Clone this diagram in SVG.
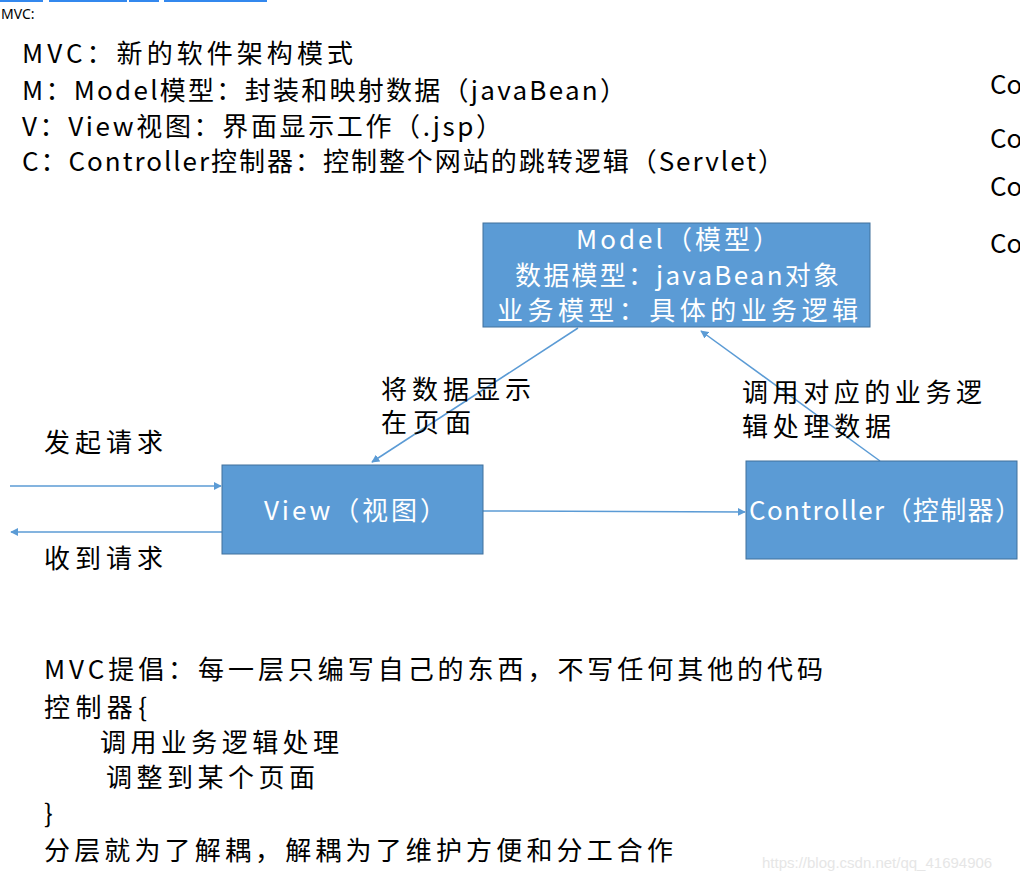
<svg xmlns="http://www.w3.org/2000/svg" width="1020" height="880" viewBox="0 0 1020 880">
<style>
.t{font-family:"Noto Sans CJK SC","Noto Sans",sans-serif;font-size:26px;fill:#000}
.b{font-family:"Noto Sans CJK SC","Noto Sans",sans-serif;font-size:26px;fill:#fff}
.box{fill:#5b9bd5;stroke:#41719c;stroke-width:1}
.ln{stroke:#5b9bd5;stroke-width:1.5;fill:none;marker-end:url(#ah)}
</style>
<defs>
<marker id="ah" viewBox="0 0 10 10" refX="9" refY="5" markerWidth="8" markerHeight="8" markerUnits="userSpaceOnUse" orient="auto">
<path d="M0,0 L10,5 L0,10 z" fill="#5b9bd5"/>
</marker>
</defs>
<rect width="1020" height="880" fill="#fff"/>
<g id="toplinks" stroke="#3388ee" stroke-width="2">
<line x1="0" y1="1" x2="43" y2="1"/><line x1="49" y1="1" x2="127" y2="1"/><line x1="129" y1="1" x2="159" y2="1"/><line x1="164" y1="1" x2="267" y2="1"/>
</g>
<text x="1" y="19" style="font-family:'Noto Sans','DejaVu Sans',sans-serif;font-size:14px">MVC:</text>
<g id="intro">
<text class="t" x="22" y="63" textLength="331" lengthAdjust="spacing">MVC：新的软件架构模式</text>
<text class="t" x="22" y="100" textLength="604" lengthAdjust="spacing">M：Model模型：封装和映射数据（javaBean）</text>
<text class="t" x="22" y="136" textLength="480" lengthAdjust="spacing">V：View视图：界面显示工作（.jsp）</text>
<text class="t" x="22" y="171" textLength="762" lengthAdjust="spacing">C：Controller控制器：控制整个网站的跳转逻辑（Servlet）</text>
</g>
<g id="co">
<text class="t" x="990" y="94">Co</text>
<text class="t" x="990" y="148">Co</text>
<text class="t" x="990" y="196">Co</text>
<text class="t" x="990" y="253">Co</text>
</g>
<g id="connectors">
<line class="ln" x1="578" y1="328" x2="372" y2="462"/>
<line class="ln" x1="880" y1="461" x2="701" y2="331"/>
<line class="ln" x1="483" y1="511" x2="745" y2="512"/>
<line class="ln" x1="10" y1="486" x2="221" y2="486"/>
<line class="ln" x1="222" y1="532" x2="11" y2="532"/>
</g>
<g id="model">
<rect class="box" x="483" y="223" width="387" height="104"/>
<text class="b" x="576" y="249" textLength="203" lengthAdjust="spacing">Model（模型）</text>
<text class="b" x="515" y="285" textLength="324" lengthAdjust="spacing">数据模型：javaBean对象</text>
<text class="b" x="497" y="320" textLength="361" lengthAdjust="spacing">业务模型：具体的业务逻辑</text>
</g>
<g id="view">
<rect class="box" x="222" y="465" width="261" height="89"/>
<text class="b" x="264" y="520" textLength="182" lengthAdjust="spacing">View（视图）</text>
</g>
<g id="controller">
<rect class="box" x="746" y="461" width="271" height="98"/>
<text class="b" x="749" y="520" textLength="272" lengthAdjust="spacing">Controller（控制器）</text>
</g>
<g id="labels">
<text class="t" x="381" y="399" textLength="150" lengthAdjust="spacing">将数据显示</text>
<text class="t" x="381" y="432" textLength="90" lengthAdjust="spacing">在页面</text>
<text class="t" x="742" y="402" textLength="240" lengthAdjust="spacing">调用对应的业务逻</text>
<text class="t" x="742" y="436" textLength="149" lengthAdjust="spacing">辑处理数据</text>
<text class="t" x="44" y="452" textLength="119" lengthAdjust="spacing">发起请求</text>
<text class="t" x="44" y="568" textLength="119" lengthAdjust="spacing">收到请求</text>
</g>
<g id="notes">
<text class="t" x="44" y="679" textLength="779" lengthAdjust="spacing">MVC提倡：每一层只编写自己的东西，不写任何其他的代码</text>
<text class="t" x="44" y="717" textLength="103" lengthAdjust="spacing">控制器{</text>
<text class="t" x="100" y="752" textLength="239" lengthAdjust="spacing">调用业务逻辑处理</text>
<text class="t" x="106" y="787" textLength="209" lengthAdjust="spacing">调整到某个页面</text>
<text class="t" x="44" y="823">}</text>
<text class="t" x="44" y="860" textLength="629" lengthAdjust="spacing">分层就为了解耦，解耦为了维护方便和分工合作</text>
</g>
<text x="762" y="868" style="font-family:'Liberation Sans',sans-serif;font-size:15px;fill:#e6e6e6">https://blog.csdn.net/qq_41694906</text>
</svg>
